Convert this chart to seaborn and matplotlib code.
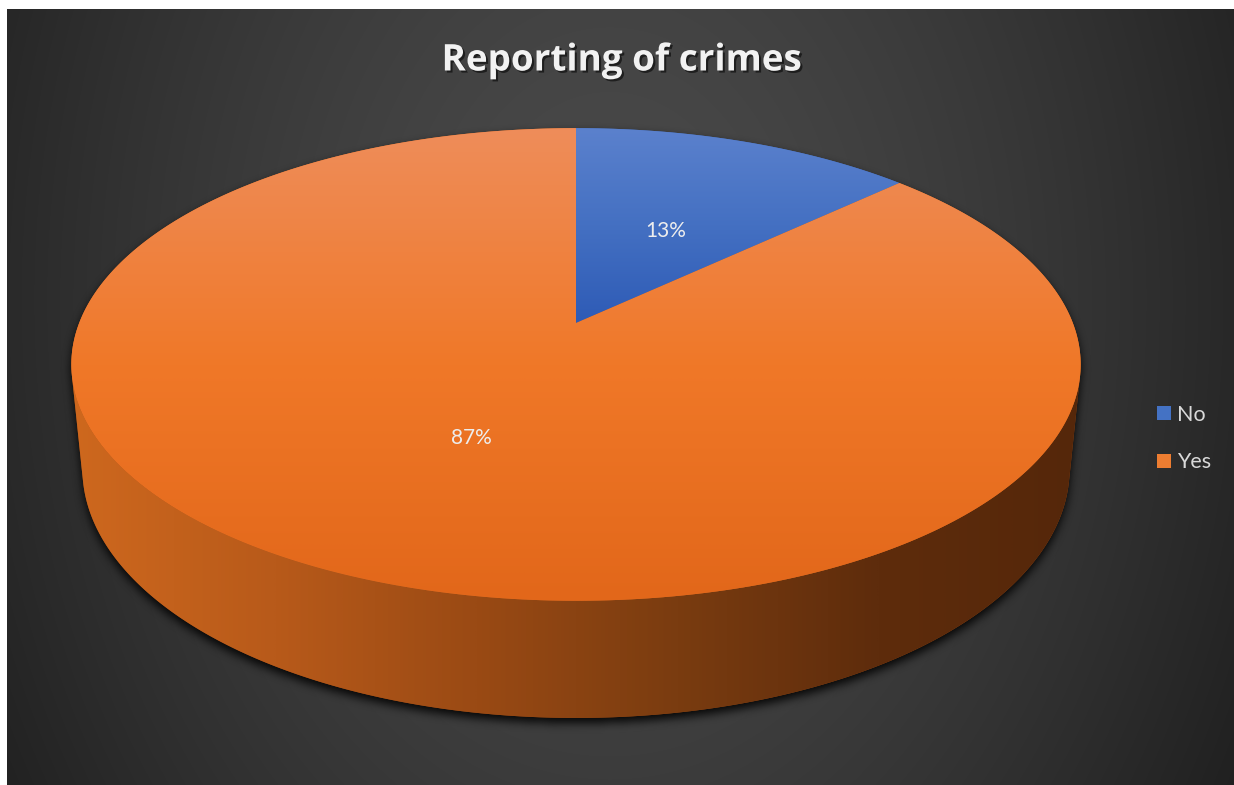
import numpy as np
import matplotlib
matplotlib.use("Agg")
import matplotlib.pyplot as plt
import matplotlib.patheffects as pe
from matplotlib.patches import Polygon, Patch
from matplotlib.path import Path
import seaborn as sns

# ---- data -------------------------------------------------------------
labels = ["No", "Yes"]
values = [13, 87]
title = "Reporting of crimes"

# ---- colours ----------------------------------------------------------
top_colors = {
    "No": ["#5B81CD", "#4470C2", "#2E5BB6"],
    "Yes": ["#EE8D5A", "#F07828", "#E2671A"],
}
side_colors = {
    "No": ["#3A64B0", "#2C4F92", "#1F3A6E", "#182E58"],
    "Yes": ["#CE681E", "#B85A1A", "#9A4A14", "#7A3C10", "#5E2C0C", "#55270A"],
}
legend_colors = {"No": "#4472C4", "Yes": "#ED7D31"}

sns.set_theme(style="dark")
plt.rcParams["font.family"] = ["Lato", "DejaVu Sans"]

W, H = 1234, 785
fig = plt.figure(figsize=(W / 100, H / 100), dpi=100, facecolor="white")
ax = fig.add_axes([0, 0, 1, 1])
ax.set_facecolor("white")


def set_view():
    ax.set_xlim(0, W)
    ax.set_ylim(H, 0)
    ax.set_aspect("auto")
    ax.axis("off")


set_view()

# ---- background: soft radial gradient ---------------------------------
PX0, PY0 = 7, 9
yy, xx = np.mgrid[PY0:H, PX0:W] + 0.5
dist = np.sqrt(((xx - 610) / 650) ** 2 + ((yy - 300) / 900) ** 2)
lum = (74 - 36 * np.clip(dist, 0, 1.3) ** 1.5) / 255
ax.imshow(np.dstack([lum, lum, lum]), extent=(PX0, W, H, PY0), zorder=0,
          interpolation="bilinear", aspect="auto")

# ---- 3-D pie camera ---------------------------------------------------
R = 1.0
DEPTH = 0.2387
DIST = 5.06
PITCH = np.radians(27.45)
FOCAL = 2514.0
CX, CY = 576.0, 323.0
LABEL_RADIUS = 0.49
LABEL_DROP = 3.0


def project(x, y, z):
    zc = -y * np.sin(PITCH) + z * np.cos(PITCH) + DIST
    yc = y * np.cos(PITCH) + z * np.sin(PITCH)
    return CX + FOCAL * x / zc, CY - FOCAL * yc / zc


def rim(theta_deg, level, radius=R):
    t = np.radians(np.atleast_1d(theta_deg).astype(float))
    return project(radius * np.cos(t), np.full_like(t, level), radius * np.sin(t))


def pts(xs, ys):
    return np.column_stack([xs, ys])


# slice boundaries, clockwise from 12 o'clock
total = float(sum(values))
fracs = np.array(values) / total
bounds = 90.0 - 360.0 * np.concatenate([[0.0], np.cumsum(fracs)])

# silhouette angles of the side wall
sil = np.degrees(np.arcsin(1.0 / (DIST * np.cos(PITCH))))
vis_lo, vis_hi = -180.0 + sil, -sil

# full outline for shadow / gradient mapping
ring = np.linspace(0, 360, 721)
top_x, top_y = rim(ring, 0.0)
pie_left, pie_right = top_x.min(), top_x.max()


def visible_wall(hi, lo):
    spans = []
    for shift in (-360.0, 0.0, 360.0):
        a = max(lo + shift, vis_lo)
        b = min(hi + shift, vis_hi)
        if b > a:
            spans.append((a, b))
    return spans


def wall_polygon(a, b):
    th = np.linspace(a, b, 240)
    tx, ty = rim(th, 0.0)
    bx, by = rim(th[::-1], -DEPTH)
    return pts(np.concatenate([tx, bx]), np.concatenate([ty, by]))


# ---- drop shadow under the pie -----------------------------------------
def blur1d(a, r, axis):
    a = np.moveaxis(a, axis, 0)
    pad = np.pad(a, ((r + 1, r),) + ((0, 0),) * (a.ndim - 1), mode="edge")
    c = np.cumsum(pad, axis=0)
    out = (c[2 * r + 1:] - c[:-2 * r - 1]) / (2 * r + 1)
    return np.moveaxis(out, 0, axis)


gy, gx = np.mgrid[0:H, 0:W] + 0.5
grid = np.column_stack([gx.ravel(), gy.ravel()])
wall_all = wall_polygon(vis_lo, vis_hi)
mask = Path(pts(top_x, top_y)).contains_points(grid) | Path(wall_all).contains_points(grid)
mask = mask.reshape(H, W).astype(float)
shadow = np.zeros_like(mask)
shadow[5:, :] = mask[:-5, :]
for _ in range(3):
    shadow = blur1d(blur1d(shadow, 4, 0), 4, 1)
rgba = np.zeros((H, W, 4))
rgba[..., 3] = np.clip(shadow * 0.9, 0, 1)
ax.imshow(rgba, extent=(0, W, H, 0), zorder=1, interpolation="bilinear", aspect="auto")

# ---- side walls -------------------------------------------------------
for i, lab in enumerate(labels):
    cmap = sns.blend_palette(side_colors[lab], n_colors=256, as_cmap=True)
    for a, b in visible_wall(bounds[i], bounds[i + 1]):
        poly_pts = wall_polygon(a, b)
        poly = Polygon(poly_pts, closed=True, facecolor=side_colors[lab][2],
                       edgecolor="none", zorder=2)
        ax.add_patch(poly)
        x0, x1 = poly_pts[:, 0].min(), poly_pts[:, 0].max()
        y0, y1 = poly_pts[:, 1].min(), poly_pts[:, 1].max()
        xs = np.linspace(x0, x1, 512)
        g = ((xs - pie_left) / (pie_right - pie_left))[None, :].repeat(4, axis=0)
        im = ax.imshow(g, extent=(x0, x1, y1, y0), cmap=cmap, vmin=0, vmax=1,
                       zorder=2.1, aspect="auto", interpolation="bilinear")
        im.set_clip_path(poly)

# ---- top faces --------------------------------------------------------
for i, lab in enumerate(labels):
    th = np.linspace(bounds[i], bounds[i + 1], 400)
    rx, ry = rim(th, 0.0)
    cx0, cy0 = project(0.0, 0.0, 0.0)
    poly_pts = pts(np.concatenate([[cx0], rx]), np.concatenate([[cy0], ry]))
    poly = Polygon(poly_pts, closed=True, facecolor=top_colors[lab][1],
                   edgecolor="none", zorder=3)
    ax.add_patch(poly)
    x0, x1 = poly_pts[:, 0].min(), poly_pts[:, 0].max()
    y0, y1 = poly_pts[:, 1].min(), poly_pts[:, 1].max()
    cmap = sns.blend_palette(top_colors[lab], n_colors=256, as_cmap=True)
    g = np.linspace(0, 1, 512)[:, None].repeat(4, axis=1)
    im = ax.imshow(g, extent=(x0, x1, y1, y0), cmap=cmap, vmin=0, vmax=1,
                   zorder=3.1, aspect="auto", interpolation="bilinear")
    im.set_clip_path(poly)

    # percentage label
    mid = 0.5 * (bounds[i] + bounds[i + 1])
    lx, ly = rim(mid, 0.0, radius=LABEL_RADIUS * R)
    ax.text(lx[0], ly[0] + LABEL_DROP, f"{values[i] / total * 100:.0f}%",
            ha="center", va="center", fontsize=15, color="#EDEDED", zorder=5)

# ---- title -------------------------------------------------------------
ax.text(621.5, 70.5, title, ha="center", va="baseline", fontsize=26.5,
        fontweight="bold", color="#F2F2F2", zorder=6,
        family=["Open Sans", "DejaVu Sans"],
        path_effects=[pe.withSimplePatchShadow(offset=(1.5, -1.5),
                                               shadow_rgbFace="black", alpha=0.55)])

# ---- legend ------------------------------------------------------------
handles = [Patch(facecolor=legend_colors[l], edgecolor="none", label=l) for l in labels]
leg = ax.legend(handles=handles, loc="center left",
                bbox_to_anchor=(1157 / W, 1 - 438.5 / H), frameon=False,
                fontsize=15.5, handlelength=0.66, handleheight=0.66,
                handletextpad=0.25, labelspacing=1.3, borderpad=0,
                borderaxespad=0)
for t in leg.get_texts():
    t.set_color("#D9D9D9")
leg.set_zorder(7)

set_view()
fig.savefig("out.png", dpi=100, facecolor="white")
